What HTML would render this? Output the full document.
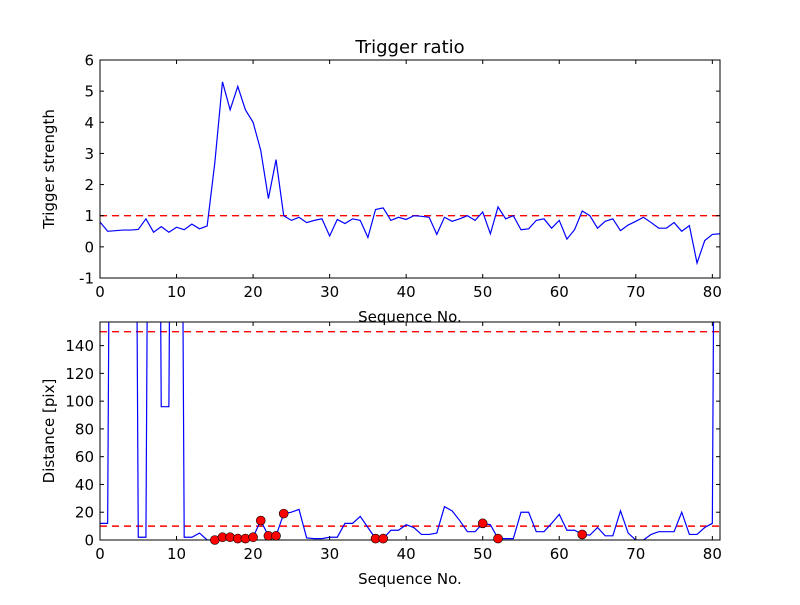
<!DOCTYPE html>
<html><head><meta charset="utf-8"><style>
body{margin:0;background:#fff;}
svg text{font-family:"DejaVu Sans","Liberation Sans",sans-serif;fill:#000;}
</style></head><body>
<svg id="fig" width="800" height="600" xmlns="http://www.w3.org/2000/svg">
<rect width="800" height="600" fill="#fff"/>
<defs>
<clipPath id="c1"><rect x="100" y="60" width="620" height="218"/></clipPath>
<clipPath id="c2"><rect x="100" y="322" width="620" height="218"/></clipPath>
</defs>
<g id="top"></g>
<g id="bot"></g>
</svg>
<script>
const ratioValues=[0.8,0.5,0.52,0.54,0.54,0.56,0.9,0.47,0.65,0.47,0.63,0.55,0.73,0.58,0.67,2.7,5.3,4.4,5.15,4.4,4.0,3.1,1.55,2.8,1.0,0.85,0.95,0.78,0.85,0.9,0.35,0.88,0.75,0.9,0.85,0.3,1.2,1.25,0.85,0.95,0.88,1.0,0.98,0.95,0.4,0.95,0.82,0.9,1.0,0.85,1.12,0.42,1.28,0.9,1.0,0.55,0.58,0.85,0.9,0.6,0.85,0.25,0.55,1.15,1.0,0.6,0.82,0.9,0.52,0.7,0.82,0.95,0.78,0.6,0.6,0.78,0.5,0.68,-0.52,0.2,0.4,0.42];
const distValues=[12,12,1000,1000,1000,2,2,1000,96,96,1000,2,2,5,0,0,2,2,1,1,2,14,3,3,19,20,22,1.5,1,1,2,2,12,12,17,9,1,1,7,7,11,9,4,4,5,24,21,14,6,6,12,11,1,1,1,20,20,6,6,12,18.5,7,7,4,3.5,9,3,3,21,5,0,0,4,6,6,6,20,4,4,9,12,1000];
const markerIdx=[15,16,17,18,19,20,21,22,23,24,36,37,50,52,63];
const ratioThreshold=[1];
const distThresholds=[10,150];
const xTicks=[0,10,20,30,40,50,60,70,80];
const ratioTicks=[-1,0,1,2,3,4,5,6];
const distTicks=[0,20,40,60,80,100,120,140];

const NS="http://www.w3.org/2000/svg";
function mk(tag,attrs,parent){const e=document.createElementNS(NS,tag);for(const k in attrs)e.setAttribute(k,attrs[k]);parent.appendChild(e);return e;}
function panel(g,top,ymin,ymax,ticks,vals,thr,clip,ylabel,title){
  const L=100,R=720,T=top,B=top+218;
  const sx=v=>L+(v/81)*(R-L), sy=v=>B-(v-ymin)/(ymax-ymin)*(B-T);
  const cg=mk('g',{'clip-path':'url(#'+clip+')'},g);
  thr.forEach(t=>{const l=mk('line',{x1:L,x2:R,y1:sy(t),y2:sy(t),stroke:'#ff0000','stroke-width':1.4,'stroke-dasharray':'7,5'},cg);
    
    });
  const p=mk('polyline',{points:vals.map((v,i)=>sx(i)+','+sy(v)).join(' '),fill:'none',stroke:'#0000ff','stroke-width':1.2},cg);
  
  
  const f=mk('rect',{x:L,y:T,width:R-L,height:B-T,fill:'none',stroke:'#000','stroke-width':1},g);
  
  
  xTicks.forEach(t=>{const x=sx(t);
    mk('line',{x1:x,x2:x,y1:B,y2:B-4,stroke:'#000'},g);mk('line',{x1:x,x2:x,y1:T,y2:T+4,stroke:'#000'},g);
    const tx=mk('text',{x:x,y:B+19,'text-anchor':'middle','font-size':15},g);tx.textContent=t;
    
    });
  ticks.forEach(t=>{const y=sy(t);
    mk('line',{x1:L,x2:L+4,y1:y,y2:y,stroke:'#000'},g);mk('line',{x1:R,x2:R-4,y1:y,y2:y,stroke:'#000'},g);
    const tx=mk('text',{x:L-6,y:y+5.5,'text-anchor':'end','font-size':15},g);tx.textContent=t;
    
    });
  const xl=mk('text',{x:410,y:B+44,'text-anchor':'middle','font-size':15},g);xl.textContent='Sequence No.';
  
  
  const yl=mk('text',{x:0,y:0,'text-anchor':'middle','font-size':15,transform:'translate('+(L-46)+','+(T+109)+') rotate(-90)'},g);yl.textContent=ylabel;
  
  
  if(title){const tt=mk('text',{x:410,y:T-7,'text-anchor':'middle','font-size':18},g);tt.textContent=title;
    
    }
  return {sx,sy,cg};
}
panel(document.getElementById('top'),60,-1,6,ratioTicks,ratioValues,ratioThreshold,'c1','Trigger strength','Trigger ratio');
const b=panel(document.getElementById('bot'),322,0,157,distTicks,distValues,distThresholds,'c2','Distance [pix]',null);
const mg=mk('g',{},document.getElementById('bot'));
markerIdx.forEach(i=>{const c=mk('circle',{cx:b.sx(i),cy:b.sy(distValues[i]),r:4.5,fill:'#ff0000',stroke:'#000','stroke-width':0.6},mg);
  
  });
</script>
</body></html>
